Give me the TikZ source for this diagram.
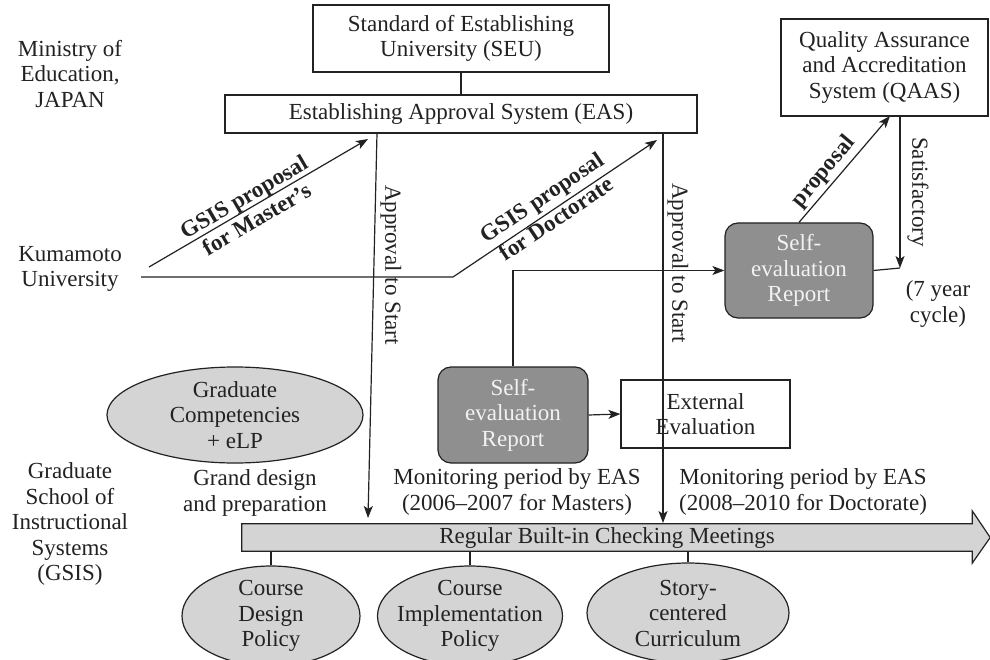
\documentclass[tikz,border=0pt]{standalone}
\usepackage{fontspec}
\setmainfont{Liberation Serif}
\usetikzlibrary{arrows.meta,calc,shapes.geometric}
\definecolor{lgray}{HTML}{D4D4D4}
\definecolor{dgray}{HTML}{8F8F8F}
\definecolor{wtext}{HTML}{F2F2F2}
\definecolor{ink}{HTML}{222222}
\begin{document}
\begin{tikzpicture}[x=1pt,y=-1pt,
  every node/.style={font=\fontsize{23}{25.5}\selectfont, align=center, inner sep=0pt, text=ink},
  ln/.style={line width=1.2pt, draw=ink},
  arr/.style={line width=1.2pt, draw=ink, -{Stealth[length=12pt,width=9pt,inset=3pt]}},
  box/.style={draw=ink, line width=1.2pt, rectangle},
  dbox/.style={draw=ink, line width=1.2pt, rectangle, rounded corners=13pt, fill=dgray, text=wtext},
  ell/.style={draw=ink, line width=1.2pt, ellipse, fill=lgray},
  bold/.style={font=\fontsize{23}{25.5}\selectfont\bfseries}
]
\useasboundingbox (0,0) rectangle (990,660);
\clip (0,0) rectangle (990,660);
\fill[white] (0,0) rectangle (990,660);

% left labels
\node (min) at (70,74) {Ministry of\\Education,\\JAPAN};
\node (kum) at (70,269) {Kumamoto\\University};
\node (gsis) at (70,524) {Graduate\\School of\\Instructional\\Systems\\(GSIS)};

% boxes
\node[box, minimum width=296, minimum height=67] (seu) at (461,38.5) {Standard of Establishing\\University (SEU)};
\node[box, minimum width=472, minimum height=38] (eas) at (461,114) {Establishing Approval System (EAS)};
\node[box, minimum width=207, minimum height=97] (qaas) at (884.5,67.5) {Quality Assurance\\and Accreditation\\System (QAAS)};
\node[dbox, minimum width=148, minimum height=95] (se1) at (799,270.5) {Self-\\evaluation\\Report};
\node[dbox, minimum width=150, minimum height=96] (se2) at (513,415) {Self-\\evaluation\\Report};
\node[box, minimum width=169, minimum height=68] (ext) at (705.5,414) {External\\Evaluation};

% ellipses
\node[ell, minimum width=256, minimum height=96] (gc) at (235,415) {};
\node (gct) at (gc) {Graduate\\Competencies\\+ eLP};
\node[ell, minimum width=178, minimum height=100] (cd) at (271,616) {};
\node (cdt) at (cd) {Course\\Design\\Policy};
\node[ell, minimum width=185, minimum height=100] (ci) at (470,616) {};
\node (cit) at (ci) {Course\\Implementation\\Policy};
\node[ell, minimum width=202, minimum height=100] (sc) at (688,613) {};
\node (sct) at (sc) {Story-\\centered\\Curriculum};

% big arrow
\node[minimum width=730, minimum height=27] (rbm) at (607,537.5) {};
\draw[ln, fill=lgray] (rbm.north west) -- (rbm.north east) -- ($(rbm.north east)+(0,-13)$)
  -- ($(rbm.east)+(18,0)$) -- ($(rbm.south east)+(0,12)$) -- (rbm.south east) -- (rbm.south west) -- cycle;
\node (rbmt) at (rbm) {Regular Built-in Checking Meetings};
\draw[ln] (rbm.south -| cd.north) -- (cd.north);
\draw[ln] (rbm.south -| ci.north) -- (ci.north);
\draw[ln] (rbm.south -| sc.north) -- (sc.north);

% text labels
\node (gdp) at (255,493) {Grand design\\and preparation};
\node (mon1) at (517,492) {Monitoring period by EAS\\(2006–2007 for Masters)};
\node (mon2) at (803,492) {Monitoring period by EAS\\(2008–2010 for Doctorate)};
\node (cyc) at (938,304) {(7 year\\cycle)};

% coordinates
\coordinate (m0) at (149,267);
\coordinate (mt) at (368,139);
\coordinate (k0) at (141,277);
\coordinate (k1) at (453,277);
\coordinate (dt) at (657,140);
\coordinate (a1s) at (377,133);
\coordinate (a1e) at (368,518);
\coordinate (a2s) at (663,133);
\coordinate (a2e) at (663,523);
\coordinate (pt) at (890,116);
\coordinate (sts) at (900,116);
\coordinate (ste) at (900,268);

% connectors
\draw[ln] (seu.south) -- (eas.north);
\draw[arr] (m0) -- (mt);
\draw[arr] (k0) -- (k1) -- (dt);
\draw[arr] (a1s) -- (a1e);
\draw[arr] (a2s) -- (a2e);
\draw[arr] (se2.north) |- (se1.west);
\draw[arr] (se2.east) -- (ext.west);
\draw[arr] (se1.north) -- (pt);
\draw[arr] (sts) -- (ste);
\draw[ln] (se1.east) -- (ste);

% rotated labels
\node[bold, rotate=30.3] (lm) at (250,208) {GSIS proposal\\for Master’s};
\node[bold, rotate=33.9] (ld) at (549,208) {GSIS proposal\\for Doctorate};
\node[rotate=-90] (ap1) at (391,265) {Approval to Start};
\node[rotate=-90] (ap2) at (678,263) {Approval to Start};
\node[bold, rotate=50] (lp) at (824,172) {proposal};
\node[rotate=-90] (lsat) at (918,192) {Satisfactory};
\end{tikzpicture}
\end{document}
